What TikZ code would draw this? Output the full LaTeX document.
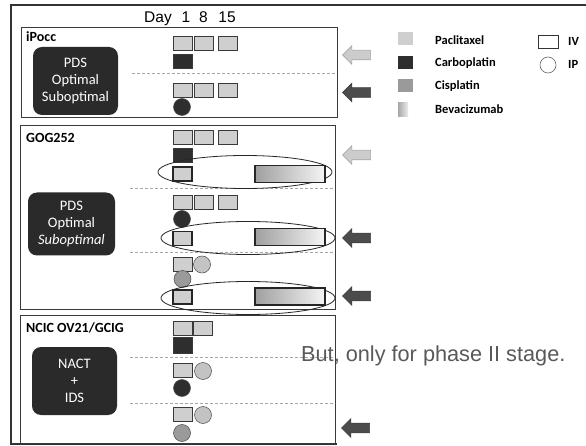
\documentclass[tikz,border=0pt]{standalone}
\usepackage{fontspec}
\setmainfont{Carlito}
\newfontfamily\arialf{Liberation Sans}
\usetikzlibrary{shapes.geometric,shapes.arrows}
\definecolor{pac}{HTML}{CFCFCF}
\definecolor{carb}{HTML}{2E2E2E}
\definecolor{cis}{HTML}{9A9A9A}
\definecolor{boxdark}{HTML}{2A2A2A}
\definecolor{framec}{HTML}{3A3A3A}
\tikzset{
  sq/.style={draw=framec, line width=0.8pt, minimum width=19pt, minimum height=14pt, inner sep=0pt, outer sep=0pt},
  pacsq/.style={sq, fill=pac},
  carbsq/.style={sq, fill=carb},
  ivsq/.style={pacsq, line width=1.4pt, draw=black!85},
  dot/.style={circle, minimum size=17pt, inner sep=0pt, draw=gray!60!black, line width=0.5pt},
  carbdot/.style={dot, fill=carb},
  cisdot/.style={dot, fill=cis},
  pacdot/.style={dot, fill=pac!85!gray},
  bevbar/.style={draw=black!85, line width=1.4pt, minimum width=70pt, minimum height=17pt, inner sep=0pt, left color=gray!75, right color=gray!8},
  oval/.style={ellipse, draw=gray!30!black, line width=0.8pt, minimum width=174pt, minimum height=33pt, inner sep=0pt},
  arrowbase/.style={single arrow, shape border rotate=180, minimum height=28pt, inner sep=4.5pt, single arrow head extend=4.5pt, line width=0.6pt},
  arlight/.style={arrowbase, draw=gray!70, fill=gray!40},
  ardark/.style={arrowbase, draw=black!75, fill=black!70},
  darkbox/.style={rounded corners=9pt, fill=boxdark, text=white, align=center, font=\fontsize{14.5}{17}\selectfont, inner sep=0pt},
  panel/.style={draw=framec, line width=0.9pt},
  sepline/.style={densely dashed, gray!70, line width=0.5pt},
  trial/.style={anchor=base west, font=\bfseries\fontsize{14}{16}\selectfont, inner sep=0pt},
  legtext/.style={anchor=base west, font=\bfseries\fontsize{12.5}{14}\selectfont, inner sep=0pt},
  daytext/.style={anchor=base, font=\arialf\fontsize{15.5}{17}\selectfont, inner sep=0pt},
}
\begin{document}
\begin{tikzpicture}[x=1pt,y=-1pt]
\useasboundingbox[fill=white] (0,0) rectangle (586,446);
% outer frame
\draw[line width=2pt, black!80] (586,5) -- (11,5) -- (11,444) -- (337,444);
% panels
\draw[panel] (21,27) rectangle (337,117);
\draw[panel] (20,125) rectangle (335,309);
\draw[panel] (20,315) rectangle (335,443);
% separators
\draw[sepline] (132,73) -- (337,73);
\draw[sepline] (130,188) -- (333,188);
\draw[sepline] (130,252) -- (333,252);
\draw[sepline] (130,357) -- (335,357);
\draw[sepline] (130,403) -- (335,403);
% Day header
\node[daytext, anchor=base west] (day) at (144,23) {Day};
\node[daytext] (d1) at (186,23) {1};
\node[daytext] (d8) at (203.5,23) {8};
\node[daytext] (d15) at (227,23) {15};
% trial labels
\node[trial] (ipocc) at (26,41.5) {iPocc};
\node[trial] (gog) at (26,143) {GOG252};
\node[trial] (ncic) at (26,332) {NCIC OV21/GCIG};
% dark boxes
\node[darkbox, minimum width=85pt, minimum height=68pt] (box1) at (75.5,81) {PDS\\Optimal\\Suboptimal};
\node[darkbox, minimum width=87pt, minimum height=63pt] (box2) at (71.5,224) {PDS\\Optimal\\\textit{Suboptimal}};
\node[darkbox, minimum width=85pt, minimum height=68pt] (box3) at (74.5,381) {NACT\\+\\IDS};
% panel 1 regimens
\node[pacsq] (a1) at (182.5,43.5) {};
\node[pacsq] (a2) at (203.5,43.5) {};
\node[pacsq] (a3) at (227.5,43.5) {};
\node[carbsq] (a4) at (182.5,61) {};
\node[pacsq] (b1) at (182.5,90) {};
\node[pacsq] (b2) at (203.5,90) {};
\node[pacsq] (b3) at (227.5,90) {};
\node[carbdot] (b4) at (182,107) {};
% panel 2 regimens
\node[pacsq] (c1) at (182.5,137.5) {};
\node[pacsq] (c2) at (203.5,137.5) {};
\node[pacsq] (c3) at (227.5,137.5) {};
\node[carbsq] (c4) at (182.5,155.5) {};
\node[oval] (o1) at (245,172) {};
\node[ivsq] (c5) at (182.5,174) {};
\node[bevbar] (c6) at (290,174) {};
\node[pacsq] (e1) at (182.5,202) {};
\node[pacsq] (e2) at (203.5,202) {};
\node[pacsq] (e3) at (227.5,202) {};
\node[carbdot] (e4) at (182,219) {};
\node[oval] (o2) at (248,238) {};
\node[ivsq] (e5) at (182.5,238.5) {};
\node[bevbar] (e6) at (290,237) {};
\node[pacsq] (f1) at (182.5,264) {};
\node[pacdot] (f2) at (202,264.5) {};
\node[cisdot] (f3) at (182.5,279) {};
\node[oval] (o3) at (248,298) {};
\node[ivsq] (f5) at (182.5,297) {};
\node[bevbar] (f6) at (290,296.5) {};
% panel 3 regimens
\node[pacsq] (g1) at (182.5,328) {};
\node[pacsq] (g2) at (202.5,328) {};
\node[carbsq, minimum height=16pt] (g3) at (182.5,345) {};
\node[pacsq] (h1) at (182.5,370) {};
\node[pacdot] (h2) at (203,371) {};
\node[carbdot] (h3) at (182,388) {};
\node[pacsq] (k1) at (182.5,414.5) {};
\node[pacdot] (k2) at (203,415) {};
\node[cisdot] (k3) at (182,433) {};
% arrows
\node[arlight] (ar1) at (359,55) {};
\node[ardark] (ar2) at (359,92.5) {};
\node[arlight] (ar3) at (359,155) {};
\node[ardark] (ar4) at (359,238) {};
\node[ardark] (ar5) at (359,296) {};
\node[ardark] (ar6) at (358,428) {};
% legend
\node[fill=pac, minimum width=15pt, minimum height=13pt, inner sep=0pt] (lg1) at (405.5,39) {};
\node[fill=carb, minimum width=15pt, minimum height=13pt, inner sep=0pt] (lg2) at (405.5,63) {};
\node[fill=cis, minimum width=15pt, minimum height=13pt, inner sep=0pt] (lg3) at (405.5,85.5) {};
\node[left color=gray!70, right color=gray!15, minimum width=10pt, minimum height=14pt, inner sep=0pt] (lg4) at (403,110) {};
\node[legtext] (lt1) at (435,44.5) {Paclitaxel};
\node[legtext] (lt2) at (435,67) {Carboplatin};
\node[legtext] (lt3) at (435,89.5) {Cisplatin};
\node[legtext] (lt4) at (435,113.5) {Bevacizumab};
\node[draw=black!80, line width=0.9pt, minimum width=20pt, minimum height=13pt, inner sep=0pt] (liv) at (548,41.5) {};
\node[circle, draw=black!60, line width=0.6pt, minimum size=16pt, inner sep=0pt] (lip) at (548,65) {};
\node[legtext] (tiv) at (568,46) {IV};
\node[legtext] (tip) at (568,69) {IP};
% annotation
\node[anchor=base west, inner sep=0pt, text=black!65, font=\arialf\fontsize{21.7}{26}\selectfont] (note) at (301,361) {But, only for phase II stage.};
\end{tikzpicture}
\end{document}
